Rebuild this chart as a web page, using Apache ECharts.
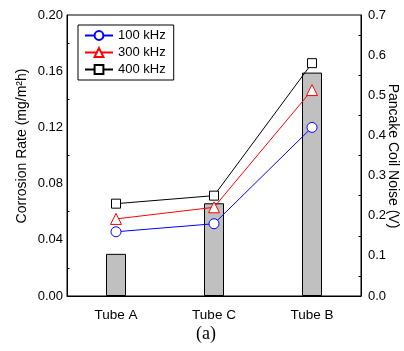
<!DOCTYPE html>
<html><head><meta charset="utf-8">
<script src="https://cdn.jsdelivr.net/npm/echarts@6/dist/echarts.min.js"></script>
<style>html,body{margin:0;padding:0;background:#fff}#c{width:404px;height:351px}</style>
</head><body><div id="c"></div>
<script>
const categories = ['Tube A', 'Tube C', 'Tube B'];
const corrosionRate = [0.030, 0.066, 0.159];
const noise100 = [0.160, 0.180, 0.420];
const noise300 = [0.192, 0.221, 0.513];
const noise400 = [0.230, 0.250, 0.580];
const leftTicks = {min: 0, max: 0.20, interval: 0.04};
const rightTicks = {min: 0, max: 0.7, interval: 0.1};

const font = 'Liberation Sans, Arial, sans-serif';
const chart = echarts.init(document.getElementById('c'));
function lineSeries(name, data, color, symbol, size) {
  return {
    name, type: 'line', yAxisIndex: 1, data, symbol, symbolSize: size,
    lineStyle: {color, width: 1},
    itemStyle: {color: '#fff', borderColor: color, borderWidth: 1},
    z: 5
  };
}
chart.setOption({
  animation: false,
  grid: {left: 67, right: 43, top: 15, bottom: 55, show: true, borderColor: '#000', borderWidth: 1},
  legend: {
    orient: 'vertical', left: 78, top: 25, padding: [4, 8, 4, 6],
    borderColor: '#000', borderWidth: 1, itemWidth: 28, itemHeight: 11, itemGap: 4,
    textStyle: {fontFamily: font, fontSize: 13, color: '#000'},
    data: ['100 kHz', '300 kHz', '400 kHz']
  },
  xAxis: {
    type: 'category', data: categories,
    axisLine: {lineStyle: {color: '#000'}},
    axisTick: {alignWithLabel: true, length: 4, lineStyle: {color: '#000'}},
    axisLabel: {fontFamily: font, fontSize: 13.5, color: '#000', margin: 12}
  },
  yAxis: [{
    type: 'value', min: leftTicks.min, max: leftTicks.max, interval: leftTicks.interval,
    axisLine: {show: true, lineStyle: {color: '#000'}},
    axisTick: {inside: true, length: 4, lineStyle: {color: '#000'}},
    minorTick: {show: true, splitNumber: 2, length: 2.5, lineStyle: {color: '#000'}},
    splitLine: {show: false},
    axisLabel: {fontFamily: font, fontSize: 13, color: '#000', margin: 4, formatter: v => v.toFixed(2)}
  }, {
    type: 'value', min: rightTicks.min, max: rightTicks.max, interval: rightTicks.interval, position: 'right',
    axisLine: {show: true, lineStyle: {color: '#000'}},
    axisTick: {inside: true, length: 4, lineStyle: {color: '#000'}},
    minorTick: {show: true, splitNumber: 2, length: 2.5, lineStyle: {color: '#000'}},
    splitLine: {show: false},
    axisLabel: {fontFamily: font, fontSize: 13, color: '#000', margin: 7, formatter: v => v.toFixed(1)}
  }],
  graphic: [{
    type: 'text', x: 22, y: 146, rotation: Math.PI / 2,
    style: {text: 'Corrosion Rate (mg/m²h)', font: '14px ' + font, fill: '#000', align: 'center', verticalAlign: 'middle'}
  }, {
    type: 'text', x: 393, y: 156, rotation: -Math.PI / 2,
    style: {text: 'Pancake Coil Noise (V)', font: '14px ' + font, fill: '#000', align: 'center', verticalAlign: 'middle'}
  }, {
    type: 'text', x: 206, y: 334,
    style: {text: '(a)', font: '18px "Liberation Serif", "Times New Roman", serif', fill: '#000', align: 'center', verticalAlign: 'middle'}
  }],
  series: [
    {type: 'bar', data: corrosionRate, barWidth: 20, yAxisIndex: 0,
     itemStyle: {color: '#c0c0c0', borderColor: '#000', borderWidth: 1}, z: 2},
    lineSeries('100 kHz', noise100, '#0000ff', 'circle', 10),
    lineSeries('300 kHz', noise300, '#ff0000', 'triangle', 11),
    lineSeries('400 kHz', noise400, '#000000', 'rect', 9)
  ]
});
</script></body></html>
